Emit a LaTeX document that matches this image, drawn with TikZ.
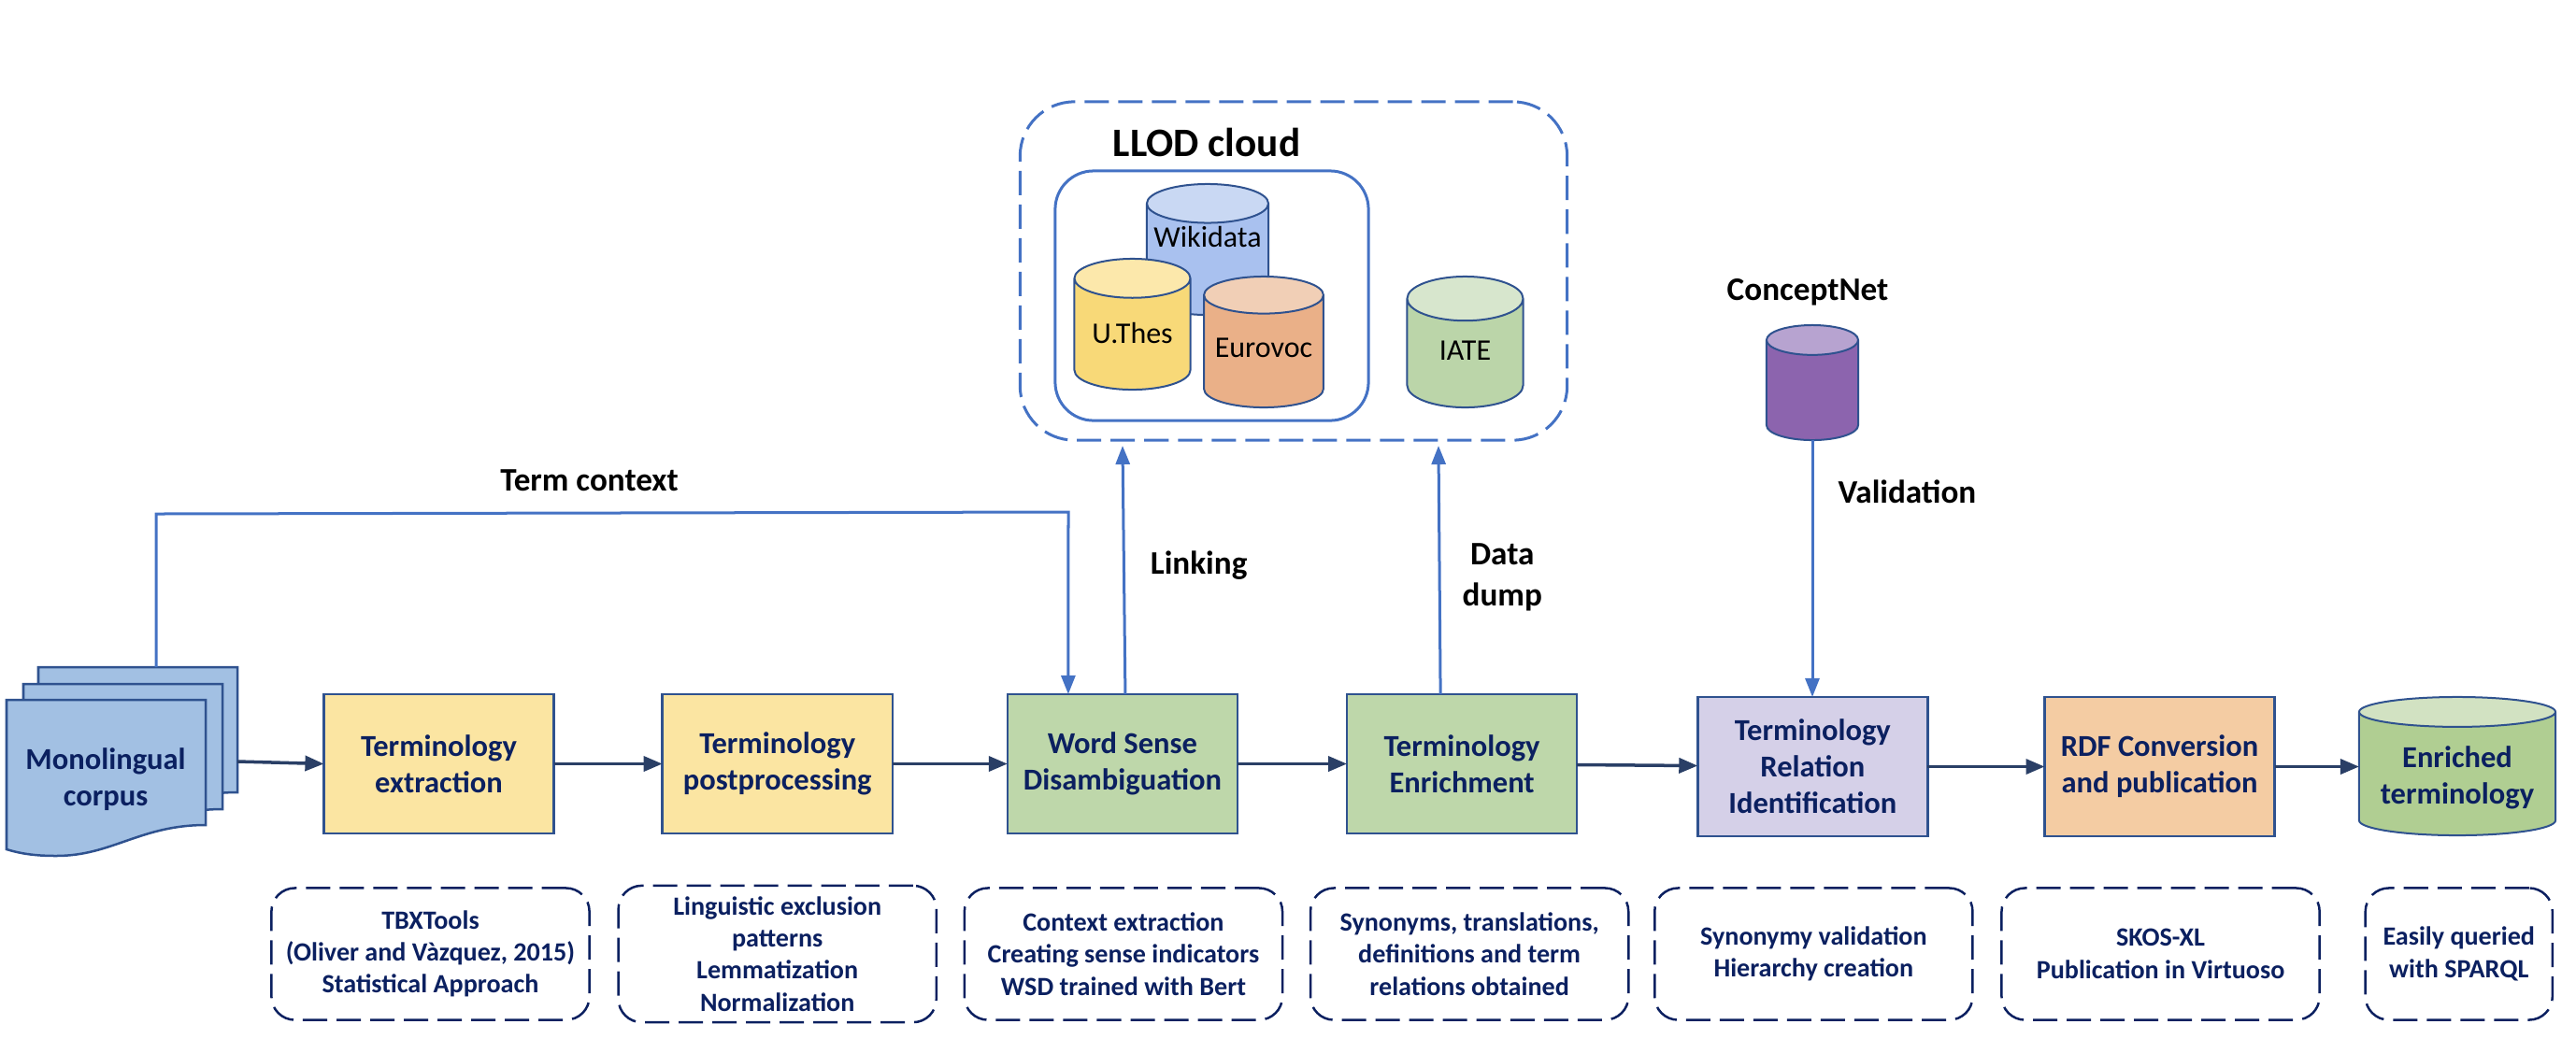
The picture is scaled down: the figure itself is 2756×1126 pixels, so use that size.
\documentclass[tikz,border=0pt]{standalone}
\usepackage{fontspec}
\setmainfont{Carlito}
\usepackage{xcolor}
\usetikzlibrary{shapes.geometric, positioning, arrows.meta}

\definecolor{navy}{HTML}{0B2060}
\definecolor{edgeblue}{HTML}{2F528F}
\definecolor{linkblue}{HTML}{4472C4}
\definecolor{flowdark}{HTML}{2A3F66}

\newcommand{\liftlabel}[2]{\raisebox{#1}[\height][\depth]{#2}}

\begin{document}
\begin{tikzpicture}[
    x=0.01cm, y=-0.01cm,
    stagebox/.style={
        draw=edgeblue, line width=0.025cm, outer sep=0pt, minimum height=1.49cm,
        minimum width=2.46cm, align=center, text=navy,
        font=\fontsize{9.25}{11.1}\selectfont\bfseries
    },
    yellowbox/.style={stagebox, fill={rgb,255:red,251;green,229;blue,162}},
    greenbox/.style={stagebox, fill={rgb,255:red,190;green,215;blue,170}},
    lilacbox/.style={stagebox, fill={rgb,255:red,213;green,208;blue,232}},
    orangebox/.style={stagebox, fill={rgb,255:red,244;green,204;blue,163}},
    note/.style={
        draw=navy, line width=0.025cm, outer sep=0pt, dash pattern=on 0.26cm off 0.1cm,
        rounded corners=0.25cm, minimum height=1.41cm, minimum width=3.40cm,
        align=center, text=navy, font=\fontsize{8}{9.75}\selectfont\bfseries
    },
    db/.style={
        cylinder, shape border rotate=90, draw=edgeblue, line width=0.02cm,
        cylinder uses custom fill, outer sep=0pt, anchor=shape center,
        minimum height=1.4cm, minimum width=1.24cm,
        font=\fontsize{9.1}{11.1}\selectfont
    },
    page/.style={draw=edgeblue, line width=0.025cm, fill={rgb,255:red,162;green,192;blue,227}},
    flow/.style={-{Triangle[length=0.2cm,width=0.16cm]}, line width=0.035cm, draw=flowdark},
    link/.style={-{Triangle[length=0.2cm,width=0.15cm]}, line width=0.03cm, draw=linkblue},
    lbl/.style={inner sep=0pt, font=\fontsize{10}{12.4}\selectfont\bfseries}
]
\useasboundingbox (0,0) rectangle (2756,1126);

% --- Corpus pages ---
\foreach \dx/\dy in {34/-35, 18/-17, 0/0} {
    \draw[page, shift={(\dx*0.01cm,-\dy*0.01cm)}] (7,749) -- (220,749) -- (220,883)
        .. controls (150,883) and (120,916) .. (60,916)
        .. controls (35,916) and (20,913) .. (7,909) -- cycle;
}
\node[align=center, text=navy, font=\fontsize{9.25}{11.1}\selectfont\bfseries] (corpus) at (113,834) {Monolingual\\corpus};
\coordinate (corpusout) at (254,815);
\coordinate (corpustop) at (167,714);

% --- Main row: stages ---
\node[yellowbox] (extract) at (469.5,817.5) {Terminology\\extraction};
\node[yellowbox, right=1.16cm of extract] (postproc) {Terminology\\postprocessing};
\node[greenbox, right=1.23cm of postproc] (wsd) {Word Sense\\Disambiguation};
\node[greenbox, right=1.17cm of wsd] (enrich) {Terminology\\Enrichment};
\node[lilacbox, right=1.29cm of enrich, yshift=-0.03cm] (relation) {Terminology\\Relation\\Identification};
\node[orangebox, right=1.25cm of relation] (rdf) {RDF Conversion\\and publication};
\node[db, aspect=0.17, minimum width=2.1cm, minimum height=1.48cm,
      cylinder body fill={rgb,255:red,176;green,206;blue,146},
      cylinder end fill={rgb,255:red,210;green,226;blue,194},
      text=navy, font=\fontsize{9.25}{11.1}\selectfont\bfseries, align=center] (enriched) at (2629,820) {Enriched\\terminology};

% --- Bottom row: notes ---
\node[note] (n1) at (460.5,1021) {TBXTools\\(Oliver and Vàzquez, 2015)\\Statistical Approach};
\node[note, right=0.31cm of n1] (n2) {Linguistic exclusion\\patterns\\Lemmatization\\Normalization};
\node[note, right=0.3cm of n2] (n3) {Context extraction\\Creating sense indicators\\WSD trained with Bert};
\node[note, right=0.3cm of n3] (n4) {Synonyms, translations,\\definitions and term\\relations obtained};
\node[note, right=0.28cm of n4] (n5) {Synonymy validation\\Hierarchy creation};
\node[note, right=0.31cm of n5] (n6) {SKOS-XL\\Publication in Virtuoso};
\node[note, right=0.49cm of n6, minimum width=2cm] (n7) {Easily queried\\with SPARQL};

% --- LLOD cloud ---
\node[draw=linkblue, line width=0.03cm, dash pattern=on 0.26cm off 0.1cm, rounded corners=0.58cm,
      minimum width=5.85cm, minimum height=3.62cm] (llod) at (1384,290) {};
\node[draw=linkblue, line width=0.03cm, rounded corners=0.41cm,
      minimum width=3.35cm, minimum height=2.67cm] (llodinner) at (1296.5,316.5) {};
\node[font=\fontsize{12.3}{15}\selectfont\bfseries] (llodtitle) at (1291,152) {LLOD cloud};
\node[db, inner sep=1pt, aspect=0.34, minimum width=1.3cm,
      cylinder body fill={rgb,255:red,169;green,193;blue,239},
      cylinder end fill={rgb,255:red,201;green,216;blue,243}] (wikidata) at (1292,267) {\liftlabel{0.28cm}{Wikidata}};
\node[db, aspect=0.38,
      cylinder body fill={rgb,255:red,248;green,217;blue,120},
      cylinder end fill={rgb,255:red,252;green,232;blue,171}] (uthes) at (1211.5,347) {\liftlabel{0.08cm}{U.Thes}};
\node[db, aspect=0.31,
      cylinder body fill={rgb,255:red,234;green,176;blue,136},
      cylinder end fill={rgb,255:red,241;green,207;blue,182}] (eurovoc) at (1352,366) {\liftlabel{0.1cm}{Eurovoc}};
\node[db, aspect=0.6,
      cylinder body fill={rgb,255:red,187;green,213;blue,169},
      cylinder end fill={rgb,255:red,215;green,230;blue,205}] (iate) at (1567.5,366) {\liftlabel{0.1cm}{IATE}};

% --- ConceptNet ---
\node[lbl] (cnettitle) at (1934,313) {ConceptNet};
\node[db, aspect=1.36, minimum width=0.98cm, minimum height=1.23cm,
      cylinder body fill={rgb,255:red,140;green,100;blue,174},
      cylinder end fill={rgb,255:red,183;green,163;blue,208}] (cnet) at (1939,409.5) {};

% --- Arrows ---
\draw[flow] (corpusout) -- (extract.west);
\draw[flow] (extract) -- (postproc);
\draw[flow] (postproc) -- (wsd);
\draw[flow] (wsd) -- (enrich);
\draw[flow] (enrich) -- (relation);
\draw[flow] (relation) -- (rdf);
\draw[flow] (rdf) -- (rdf.east -| enriched.west);

\coordinate (contextcorner) at (167,550);
\coordinate (contextturn) at (1143,548);
\coordinate (linktop) at (1201,477);
\coordinate (dumptop) at (1539,477);
\draw[link] (corpustop) -- (contextcorner) -- node[pos=0.475, above=0.22cm, lbl] (termctx) {Term context} (contextturn) -- ([xshift=-0.58cm]wsd.north);
\draw[link] ([xshift=0.03cm]wsd.north) -- node[pos=0.52, right=0.27cm, lbl] (linking) {Linking} (linktop);
\draw[link] ([xshift=-0.23cm]enrich.north) -- node[pos=0.47, right=0.23cm, lbl, align=center] (dump) {Data\\dump} (dumptop);
\draw[link] (cnet.south) -- node[pos=0.2, right=0.26cm, lbl] (validation) {Validation} (relation.north -| cnet.south);

\end{tikzpicture}
\end{document}
